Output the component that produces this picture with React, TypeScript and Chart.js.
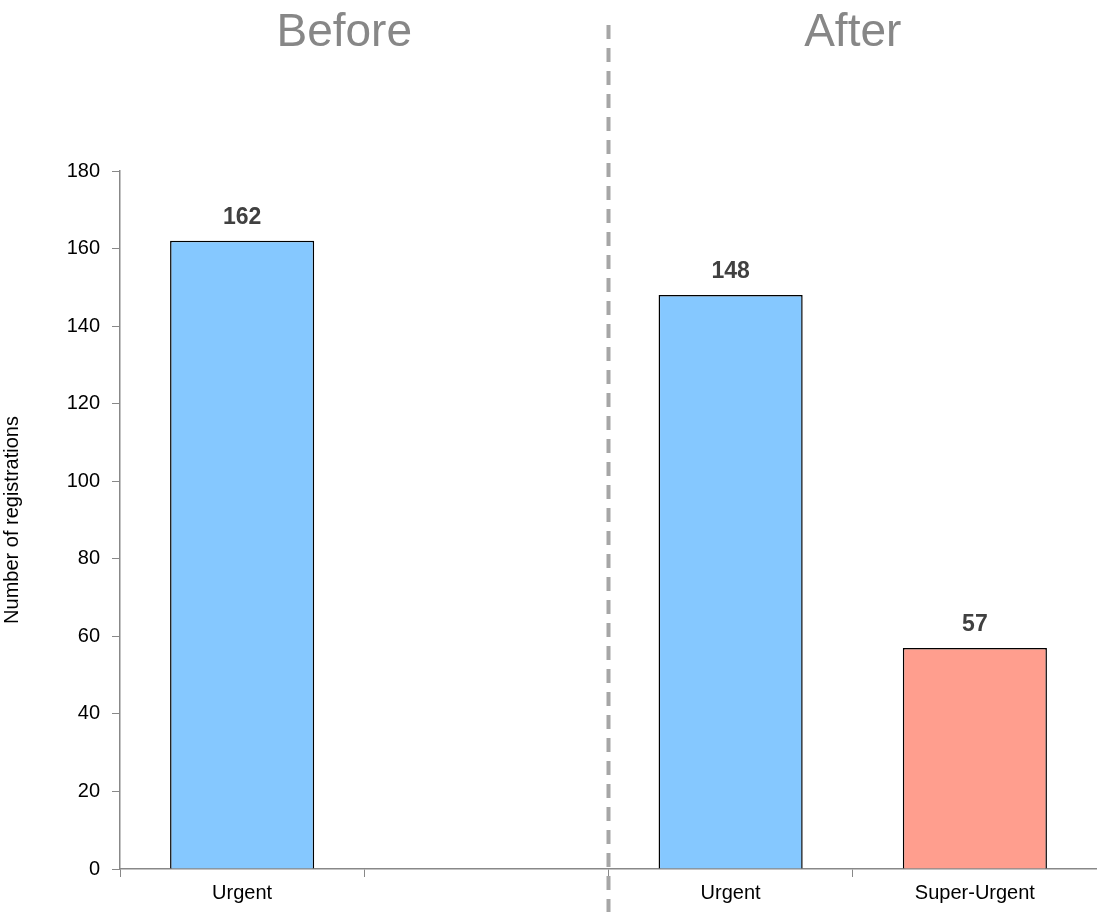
import React, { useRef, useEffect } from "react"
import { Chart, registerables } from "chart.js"

Chart.register(...registerables)

const categories = ["Urgent", "", "Urgent", "Super-Urgent"]
const registrations = [162, null, 148, 57]
const barColors = ["#85C8FF", "#85C8FF", "#85C8FF", "#FF9E8E"]
const periodTitles = ["Before", "After"]
const yTicks = [0, 20, 40, 60, 80, 100, 120, 140, 160, 180]

const FONT = "'Liberation Sans', Arial, sans-serif"

const overlay = {
  id: "overlay",
  afterDraw(chart: any) {
    const ctx = chart.ctx
    const x = chart.scales.x
    const area = chart.chartArea
    const meta = chart.getDatasetMeta(0)
    ctx.save()
    // data labels
    ctx.font = `bold 23px ${FONT}`
    ctx.fillStyle = "#404040"
    ctx.textAlign = "center"
    ctx.textBaseline = "bottom"
    meta.data.forEach((bar: any, i: number) => {
      const v = registrations[i]
      if (v == null) return
      ctx.fillText(String(v), bar.x, bar.y - 12)
    })
    // dashed divider between slot 1 and 2
    const divX = (x.getPixelForValue(1) + x.getPixelForValue(2)) / 2
    ctx.strokeStyle = "#A6A6A6"
    ctx.lineWidth = 4
    ctx.setLineDash([14, 9])
    ctx.beginPath()
    ctx.moveTo(divX, 25)
    ctx.lineTo(divX, chart.height - 5)
    ctx.stroke()
    ctx.setLineDash([])
    // period titles
    ctx.font = `46px ${FONT}`
    ctx.fillStyle = "#878787"
    ctx.textBaseline = "middle"
    ctx.fillText(periodTitles[0], (area.left + divX) / 2 - 20, 33)
    ctx.fillText(periodTitles[1], (x.getPixelForValue(2) + x.getPixelForValue(3)) / 2, 33)
    ctx.restore()
  },
}

export default function App() {
  const canvasRef = useRef<HTMLCanvasElement>(null)

  useEffect(() => {
    document.body.style.margin = "0"
    if (!canvasRef.current) return
    const chart = new Chart(canvasRef.current.getContext("2d")!, {
      type: "bar",
      data: {
        labels: categories,
        datasets: [
          {
            data: registrations,
            backgroundColor: barColors,
            borderColor: "#000",
            borderWidth: 1.5,
            barPercentage: 0.59,
            categoryPercentage: 1,
          },
        ],
      },
      options: {
        responsive: false,
        animation: false,
        layout: { padding: { top: 171, right: 0, left: 0, bottom: 0 } },
        plugins: { legend: { display: false }, tooltip: { enabled: false } },
        scales: {
          x: {
            offset: true,
            grid: { offset: true, drawOnChartArea: false, tickLength: 8, color: "#888" },
            border: { color: "#888", width: 1.5 },
            ticks: { color: "#000", font: { family: FONT, size: 20 }, padding: 4 },
            afterFit: (s: any) => { s.height = 48 },
          },
          y: {
            min: 0,
            max: 180,
            afterBuildTicks: (s: any) => { s.ticks = yTicks.map((v) => ({ value: v })) },
            grid: { drawOnChartArea: false, tickLength: 8, color: "#888" },
            border: { color: "#888", width: 1.5 },
            ticks: { color: "#000", font: { family: FONT, size: 20 }, padding: 12 },
            title: { display: true, text: "Number of registrations", color: "#000", font: { family: FONT, size: 20 }, padding: 0 },
            afterFit: (s: any) => { s.width = 120 },
          },
        },
      },
      plugins: [overlay],
    })
    return () => chart.destroy()
  }, [])

  return <canvas ref={canvasRef} width={1097} height={917} style={{ display: "block" }} />
}
